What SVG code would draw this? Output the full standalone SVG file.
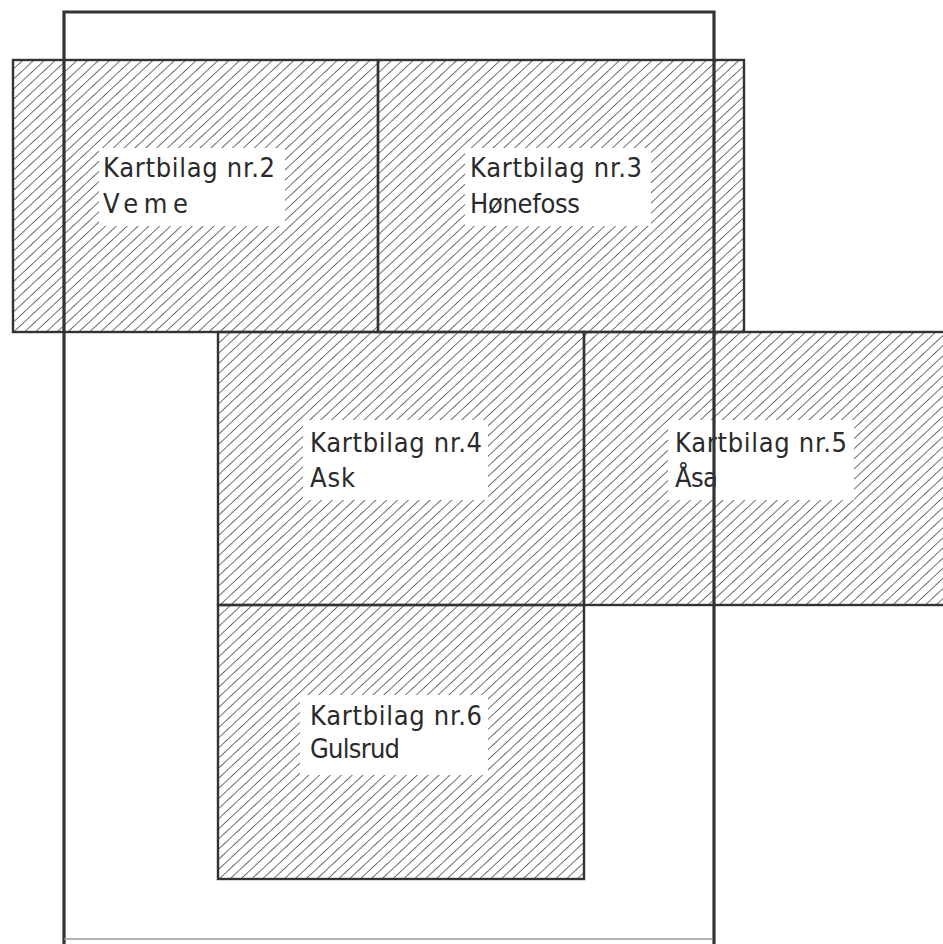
<svg xmlns="http://www.w3.org/2000/svg" width="943" height="944" viewBox="0 0 943 944">
  <defs>
    <!-- diagonal hatching for map sheet areas -->
    <pattern id="hatch" patternUnits="userSpaceOnUse" width="7.4" height="7.4" patternTransform="rotate(47)">
      <line x1="0" y1="0" x2="0" y2="7.4" stroke="#333" stroke-width="1.4"/>
    </pattern>
    <style>
      .sheet { fill: url(#hatch); stroke: #333; stroke-width: 2.4; }
      .label-bg { fill: #fff; stroke: none; }
      .label { font-family: "DejaVu Sans Condensed", "Liberation Sans Narrow", "Liberation Sans", sans-serif; font-stretch: condensed; font-weight: 300; font-size: 27px; fill: #2a2a2a; }
      .frame { fill: none; stroke: #333; stroke-width: 3.2; }
    </style>
  </defs>

  <rect width="943" height="944" fill="#fff"/>

  <!-- Map sheet nr.2 -->
  <g id="sheet-2">
    <rect class="sheet" x="13" y="60" width="365" height="272"/>
    <rect class="label-bg" x="99" y="148" width="186" height="78"/>
    <text class="label" x="103" y="177" textLength="172" lengthAdjust="spacing">Kartbilag nr.2</text>
    <text class="label" x="103" y="213" textLength="85" lengthAdjust="spacing">Veme</text>
  </g>

  <!-- Map sheet nr.3 -->
  <g id="sheet-3">
    <rect class="sheet" x="378" y="60" width="366" height="272"/>
    <rect class="label-bg" x="465" y="148" width="186" height="78"/>
    <text class="label" x="470" y="177" textLength="172" lengthAdjust="spacing">Kartbilag nr.3</text>
    <text class="label" x="470" y="213" textLength="110" lengthAdjust="spacing">Hønefoss</text>
  </g>

  <!-- Map sheet nr.4 -->
  <g id="sheet-4">
    <rect class="sheet" x="218" y="332" width="366" height="273"/>
    <rect class="label-bg" x="303" y="420" width="185" height="80"/>
    <text class="label" x="310" y="452" textLength="172" lengthAdjust="spacing">Kartbilag nr.4</text>
    <text class="label" x="310" y="487" textLength="45" lengthAdjust="spacing">Ask</text>
  </g>

  <!-- Map sheet nr.5 -->
  <g id="sheet-5">
    <rect class="sheet" x="584" y="332" width="366" height="273"/>
    <rect class="label-bg" x="668" y="420" width="186" height="80"/>
    <text class="label" x="675" y="452" textLength="172" lengthAdjust="spacing">Kartbilag nr.5</text>
    <text class="label" x="675" y="487" textLength="43" lengthAdjust="spacing">Åsa</text>
  </g>

  <!-- Map sheet nr.6 -->
  <g id="sheet-6">
    <rect class="sheet" x="218" y="605" width="366" height="274"/>
    <rect class="label-bg" x="300" y="695" width="188" height="80"/>
    <text class="label" x="310" y="725" textLength="172" lengthAdjust="spacing">Kartbilag nr.6</text>
    <text class="label" x="310" y="758" textLength="90" lengthAdjust="spacing">Gulsrud</text>
  </g>

  <!-- Overall plan boundary -->
  <g id="boundary">
    <path class="frame" d="M64,944 V12 H714 V944"/>
    <line x1="64" y1="939" x2="712" y2="939" stroke="#9a9a9a" stroke-width="1.5"/>
  </g>
</svg>
